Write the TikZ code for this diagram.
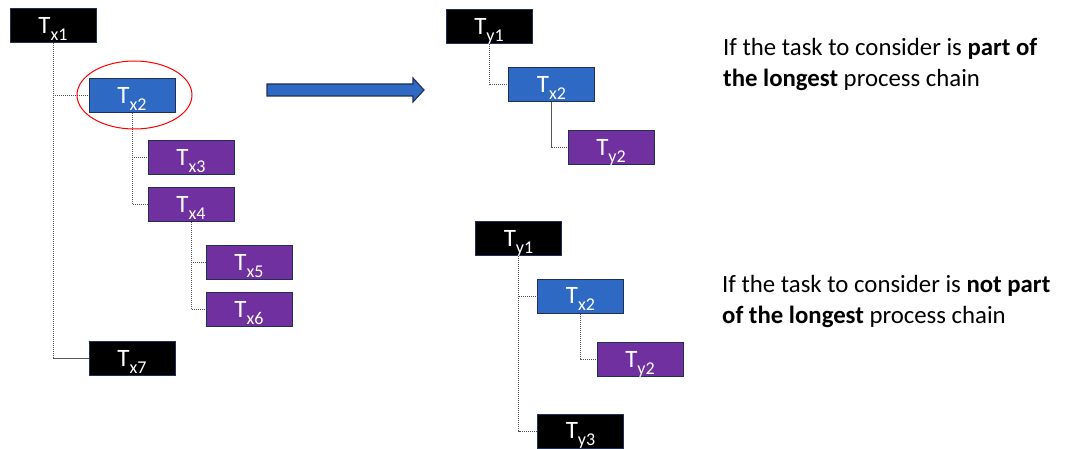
\documentclass[tikz,border=0pt]{standalone}
\usepackage{fontspec}
\setmainfont{Carlito}
\definecolor{navyedge}{HTML}{1F2F55}
\definecolor{taskblue}{HTML}{2E6AC4}
\definecolor{taskpurple}{HTML}{7030A0}
\definecolor{linkgray}{HTML}{555555}
\newcommand\tasklabel[2]{#1\raisebox{-7pt}{\fontsize{18}{18}\selectfont #2}}
\tikzset{
  taskbox/.style={draw=navyedge, line width=1pt, text=white,
    minimum width=86pt, minimum height=34pt, inner sep=0pt,
    text height=15.5pt, text depth=0pt, font=\fontsize{25}{25}\selectfont},
  blackbox/.style={taskbox, fill=black},
  bluebox/.style={taskbox, fill=taskblue},
  purplebox/.style={taskbox, fill=taskpurple},
  link/.style={draw=linkgray, line width=1pt, dash pattern=on 1.3pt off 0.7pt},
  note/.style={anchor=base west, inner sep=0pt, font=\fontsize{24.8}{24.8}\selectfont}
}
\begin{document}
\begin{tikzpicture}[x=1pt,y=-1pt]
\useasboundingbox (0,0) rectangle (1079,449);

% left tree
\node[blackbox]  (x1) at (53,25.5)  {\tasklabel{T}{x1}};
\node[bluebox]   (x2) at (132,95.5) {\tasklabel{T}{x2}};
\node[purplebox] (x3) at (191,157.5) {\tasklabel{T}{x3}};
\node[purplebox] (x4) at (191,204.5) {\tasklabel{T}{x4}};
\node[purplebox] (x5) at (249,262.5) {\tasklabel{T}{x5}};
\node[purplebox] (x6) at (249,309.5) {\tasklabel{T}{x6}};
\node[blackbox]  (x7) at (132,358.5) {\tasklabel{T}{x7}};

\draw[link] (x1.south) |- (x2.west);
\draw[link] (x1.south) |- (x7.west);
\draw[link] (x2.south) |- (x3.west);
\draw[link] (x2.south) |- (x4.west);
\draw[link] (x4.south) |- (x5.west);
\draw[link] (x4.south) |- (x6.west);

% highlight of the task under consideration
\draw[red, line width=1pt] (134.5,95) ellipse [x radius=57.5, y radius=34];

% transformation arrow
\draw[fill=taskblue, draw=navyedge, line width=1.1pt]
  (267,84) -- (413,84) -- (413,78) -- (424,90) -- (413,102) -- (413,96) -- (267,96) -- cycle;

% resulting chain: task on the longest chain
\node[blackbox]  (ya1) at (489,26.5)  {\tasklabel{T}{y1}};
\node[bluebox]   (xa2) at (551.5,85)  {\tasklabel{T}{x2}};
\node[purplebox] (ya2) at (611,148)   {\tasklabel{T}{y2}};
\draw[link] (ya1.south) |- (xa2.west);
\draw[link] (xa2.south) |- (ya2.west);

% resulting chain: task off the longest chain
\node[blackbox]  (yb1) at (518.5,238.5) {\tasklabel{T}{y1}};
\node[bluebox]   (xb2) at (580.5,296)   {\tasklabel{T}{x2}};
\node[purplebox] (yb2) at (640,359.5)   {\tasklabel{T}{y2}};
\node[blackbox]  (yb3) at (580.5,431)   {\tasklabel{T}{y3}};
\draw[link] (yb1.south) |- (xb2.west);
\draw[link] (yb1.south) |- (yb3.west);
\draw[link] (xb2.south) |- (yb2.west);

% explanations
\node[note] (n1a) at (723,56)  {If the task to consider is \textbf{part of}};
\node[note] (n1b) at (723,87)  {\textbf{the longest} process chain};
\node[note] (n2a) at (722,292) {If the task to consider is \textbf{not part}};
\node[note] (n2b) at (722,323) {\textbf{of the longest} process chain};
\end{tikzpicture}
\end{document}
